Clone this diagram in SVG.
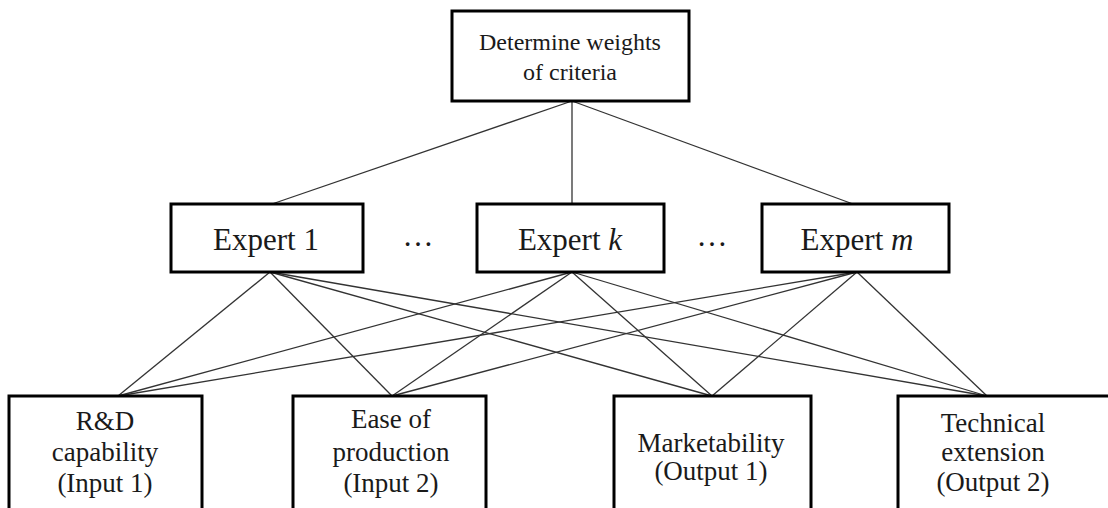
<svg xmlns="http://www.w3.org/2000/svg" width="1108" height="508" viewBox="0 0 1108 508">
<style>
.box{fill:#fff;stroke:#000;stroke-width:3}
.t{font-family:"Liberation Serif","Times New Roman",serif;fill:#1a1a1a;text-anchor:middle}
.s24{font-size:24px}
.s31{font-size:31px}
.s27{font-size:27px}
.conn line{stroke:#333;stroke-width:1.3}
</style>
<rect width="1108" height="508" fill="#fff"/>
<g id="connectors" class="conn">
<line x1="572" y1="101" x2="272" y2="204"/>
<line x1="572" y1="101" x2="572" y2="204"/>
<line x1="572" y1="101" x2="853" y2="204"/>
<line x1="270" y1="272" x2="118" y2="396"/>
<line x1="270" y1="272" x2="392" y2="396"/>
<line x1="270" y1="272" x2="712" y2="396"/>
<line x1="270" y1="272" x2="987" y2="396"/>
<line x1="572" y1="272" x2="118" y2="396"/>
<line x1="572" y1="272" x2="392" y2="396"/>
<line x1="572" y1="272" x2="712" y2="396"/>
<line x1="572" y1="272" x2="987" y2="396"/>
<line x1="857" y1="272" x2="118" y2="396"/>
<line x1="857" y1="272" x2="392" y2="396"/>
<line x1="857" y1="272" x2="712" y2="396"/>
<line x1="857" y1="272" x2="987" y2="396"/>
</g>
<g id="top">
<rect class="box" x="452" y="11" width="237" height="90"/>
<text class="t s24" x="570" y="50">Determine weights</text>
<text class="t s24" x="570" y="80">of criteria</text>
</g>
<g id="expert1">
<rect class="box" x="171" y="204" width="192" height="68"/>
<text class="t s31" x="266" y="250">Expert 1</text>
</g>
<g id="expertk">
<rect class="box" x="477" y="204" width="187" height="68"/>
<text class="t s31" x="570" y="250">Expert <tspan font-style="italic">k</tspan></text>
</g>
<g id="expertm">
<rect class="box" x="762" y="204" width="187" height="68"/>
<text class="t s31" x="857" y="250">Expert <tspan font-style="italic">m</tspan></text>
</g>
<g id="dots1"><text class="t s31" x="418" y="246">…</text></g>
<g id="dots2"><text class="t s31" x="712" y="246">…</text></g>
<g id="rd">
<rect class="box" x="9" y="396" width="193" height="120"/>
<text class="t s27" x="105" y="430">R&amp;D</text>
<text class="t s27" x="105" y="461">capability</text>
<text class="t s27" x="105" y="492">(Input 1)</text>
</g>
<g id="ease">
<rect class="box" x="293" y="396" width="193" height="120"/>
<text class="t s27" x="391" y="428">Ease of</text>
<text class="t s27" x="391" y="461">production</text>
<text class="t s27" x="391" y="492">(Input 2)</text>
</g>
<g id="market">
<rect class="box" x="614" y="396" width="197" height="120"/>
<text class="t s27" x="711" y="452">Marketability</text>
<text class="t s27" x="711" y="480">(Output 1)</text>
</g>
<g id="tech">
<rect class="box" x="898" y="396" width="216" height="120"/>
<text class="t s27" x="993" y="432">Technical</text>
<text class="t s27" x="993" y="461">extension</text>
<text class="t s27" x="993" y="491">(Output 2)</text>
</g>
</svg>
